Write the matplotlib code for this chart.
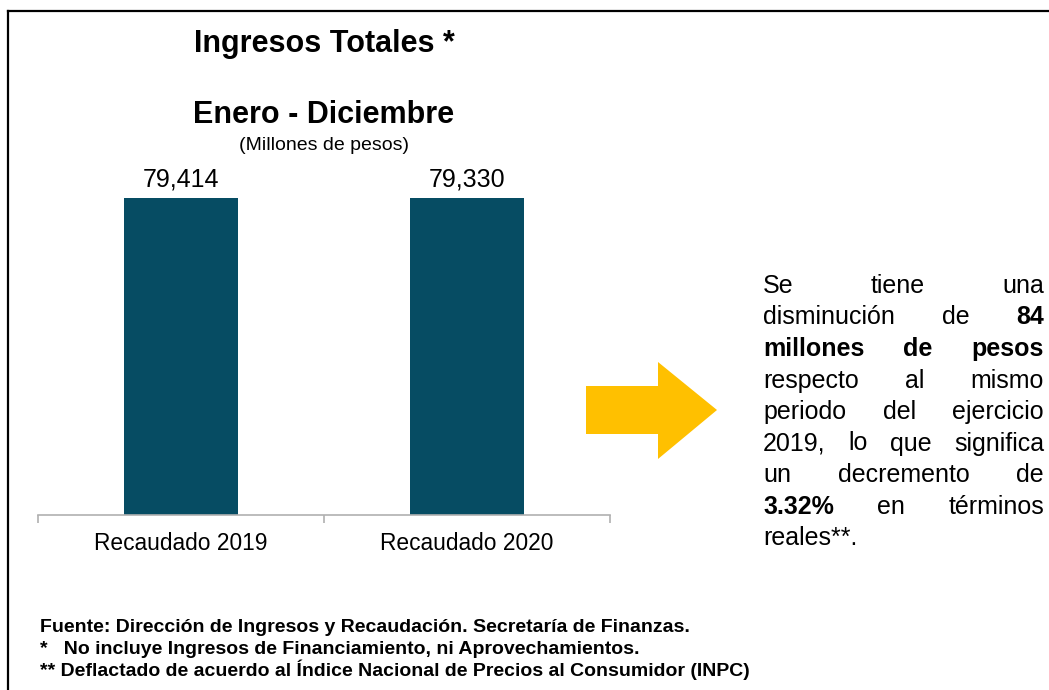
import matplotlib
matplotlib.use("Agg")
import matplotlib.pyplot as plt
from matplotlib.lines import Line2D
from matplotlib.patches import Polygon

plt.rcParams['font.family'] = ['Liberation Sans', 'DejaVu Sans']

# Data
categories = ["Recaudado 2019", "Recaudado 2020"]
values = [79414, 79330]

title = "Ingresos Totales *"
subtitle = "Enero - Diciembre"
units = "(Millones de pesos)"

# Justified commentary: each line is a list of (word, bold)
comment_lines = [
    [("Se", False), ("tiene", False), ("una", False)],
    [("disminución", False), ("de", False), ("84", True)],
    [("millones", True), ("de", True), ("pesos", True)],
    [("respecto", False), ("al", False), ("mismo", False)],
    [("periodo", False), ("del", False), ("ejercicio", False)],
    [("2019,", False), ("lo", False), ("que", False), ("significa", False)],
    [("un", False), ("decremento", False), ("de", False)],
    [("3.32%", True), ("en", False), ("términos", False)],
    [("reales**.", False)],
]

notes = [
    "Fuente: Dirección de Ingresos y Recaudación. Secretaría de Finanzas.",
    "*   No incluye Ingresos de Financiamiento, ni Aprovechamientos.",
    "** Deflactado de acuerdo al Índice Nacional de Precios al Consumidor (INPC)",
]

W, H = 1049, 690
fig = plt.figure(figsize=(W / 100, H / 100), dpi=100)


def fx(px):
    return px / W


def fy(py):
    return 1 - py / H


# Frame lines (left and top)
fig.add_artist(Line2D([fx(8), fx(8)], [fy(11), 0], color="black", lw=1.6,
                      transform=fig.transFigure))
fig.add_artist(Line2D([fx(8), 1], [fy(11), fy(11)], color="black", lw=1.6,
                      transform=fig.transFigure))

# Bar chart
ax = fig.add_axes([fx(38), fy(515), fx(610 - 38), (515 - 135) / H])
bar_color = "#064C63"
x = list(range(len(categories)))
ax.bar(x, values, width=0.40, color=bar_color, zorder=2)
ax.set_xlim(-0.5, len(categories) - 0.5)
ax.set_ylim(0, 95200)

for side in ("left", "right", "top"):
    ax.spines[side].set_visible(False)
ax.spines["bottom"].set_color("#B0B0B0")
ax.spines["bottom"].set_linewidth(1.2)
ax.set_yticks([])
ax.set_xticks(x)
ax.set_xticklabels(categories, fontsize=16.4, color="#000000")
ax.tick_params(axis="x", which="major", length=0, pad=12)
ax.set_xticks([i - 0.5 for i in range(len(categories) + 1)], minor=True)
ax.tick_params(axis="x", which="minor", length=6, width=1.2, color="#B0B0B0",
               direction="out")

for xi, v in zip(x, values):
    ax.annotate(f"{v:,}", (xi, v), xytext=(0, 8.5), textcoords="offset points",
                ha="center", va="baseline", fontsize=18, color="#000000")

# Titles
cx = fx(324)
fig.text(cx, fy(52), title, ha="center", va="baseline", fontsize=22,
         fontweight="bold")
fig.text(cx, fy(123), subtitle, ha="center", va="baseline", fontsize=22,
         fontweight="bold")
fig.text(cx, fy(150), units, ha="center", va="baseline", fontsize=14)

# Arrow
arrow_pts = [(586, 386), (658, 386), (658, 362), (717, 410), (658, 459),
             (658, 434), (586, 434)]
fig.add_artist(Polygon([(fx(a), fy(b)) for a, b in arrow_pts], closed=True,
                       facecolor="#FFC000", edgecolor="none",
                       transform=fig.transFigure))

# Justified commentary text
renderer = fig.canvas.get_renderer()
left_px, right_px = 763, 1044
base0, step = 293, 31.5
for li, words in enumerate(comment_lines):
    yb = fy(base0 + li * step)
    texts = []
    for w, b in words:
        t = fig.text(0, yb, w, ha="left", va="baseline", fontsize=18,
                     fontweight="bold" if b else "normal")
        texts.append(t)
    widths = [t.get_window_extent(renderer).width for t in texts]
    if li == len(comment_lines) - 1 or len(texts) == 1:
        pos = left_px
        gap = renderer.points_to_pixels(18) * 0.278
        for t, wd in zip(texts, widths):
            t.set_x(fx(pos))
            pos += wd + gap
    else:
        gap = (right_px - left_px - sum(widths)) / (len(texts) - 1)
        pos = left_px
        for t, wd in zip(texts, widths):
            t.set_x(fx(pos))
            pos += wd + gap

# Footnotes
for i, note in enumerate(notes):
    fig.text(fx(40), fy(632 + i * 22), note, ha="left", va="baseline",
             fontsize=14, fontweight="bold")

fig.savefig("out.png", dpi=100)
